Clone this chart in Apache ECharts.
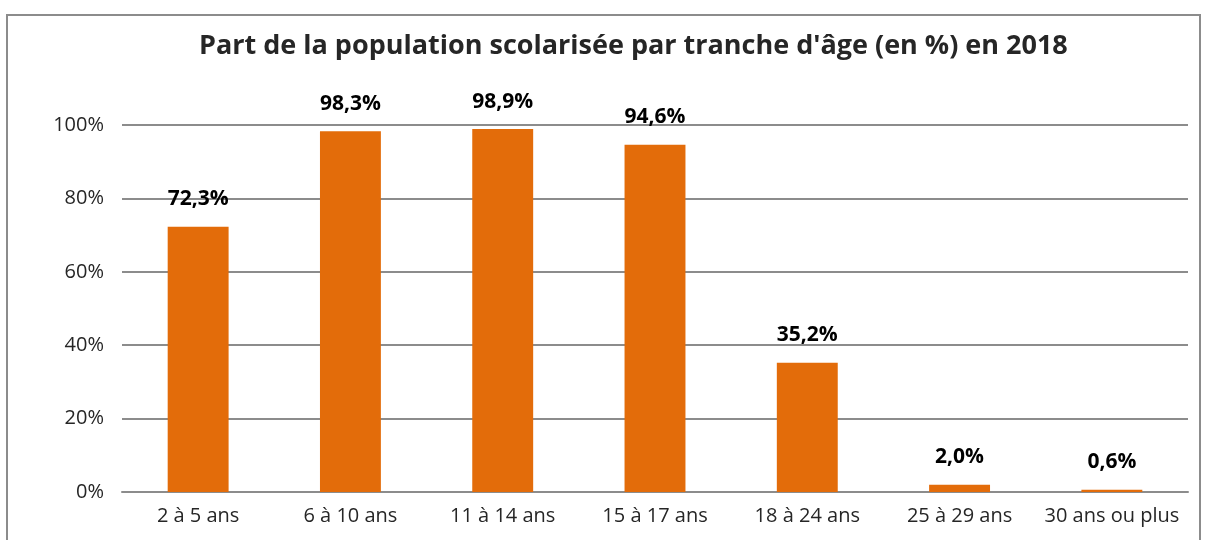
<!DOCTYPE html>
<html>
<head>
<meta charset="utf-8">
<script src="https://cdn.jsdelivr.net/npm/echarts@6/dist/echarts.min.js"></script>
<style>
  html, body { margin: 0; padding: 0; background: #fff; }
  #chart { width: 1208px; height: 540px; }
</style>
</head>
<body>
<div id="chart"></div>
<script>
// données
var categories = ["2 à 5 ans", "6 à 10 ans", "11 à 14 ans", "15 à 17 ans", "18 à 24 ans", "25 à 29 ans", "30 ans ou plus"]
var values = [72.3, 98.3, 98.9, 94.6, 35.2, 2.0, 0.6]
var yTicks = [0, 20, 40, 60, 80, 100]

var myChart = echarts.init(document.getElementById("chart"))
var font = "'Open Sans', Lato, sans-serif"

var option = {
  animation: false,
  textStyle: { fontFamily: font },
  graphic: [
    {
      type: "rect",
      shape: { x: 7, y: 15, width: 1193, height: 540 },
      style: { fill: "none", stroke: "#8c8c8c", lineWidth: 2 },
    },
  ],
  title: {
    text: "Part de la population scolarisée par tranche d'âge (en %) en 2018",
    left: 194,
    top: 28,
    textStyle: { fontSize: 27, fontWeight: "bold", color: "#262626", fontFamily: font },
  },
  grid: { left: 122, right: 20, top: 125, bottom: 48 },
  xAxis: {
    type: "category",
    data: categories,
    axisTick: { show: false },
    axisLine: { lineStyle: { color: "#8c8c8c", width: 2 } },
    axisLabel: { interval: 0, color: "#262626", fontSize: 20, margin: 14, fontFamily: font },
  },
  yAxis: {
    type: "value",
    min: yTicks[0],
    max: yTicks[yTicks.length - 1],
    interval: 20,
    axisLine: { show: false },
    axisTick: { show: false },
    axisLabel: { color: "#262626", fontSize: 20, margin: 18, formatter: "{value}%", fontFamily: font },
    splitLine: { lineStyle: { color: "#8c8c8c", width: 2 } },
  },
  series: [
    {
      type: "bar",
      data: values,
      barWidth: "40%",
      itemStyle: { color: "#E36C0A" },
      label: {
        show: true,
        position: "top",
        distance: 17,
        fontSize: 21,
        fontWeight: "bold",
        color: "#000",
        fontFamily: font,
        formatter: function (p) {
          return p.value.toFixed(1).replace(".", ",") + "%"
        },
      },
    },
  ],
}
myChart.setOption(option)
</script>
</body>
</html>
